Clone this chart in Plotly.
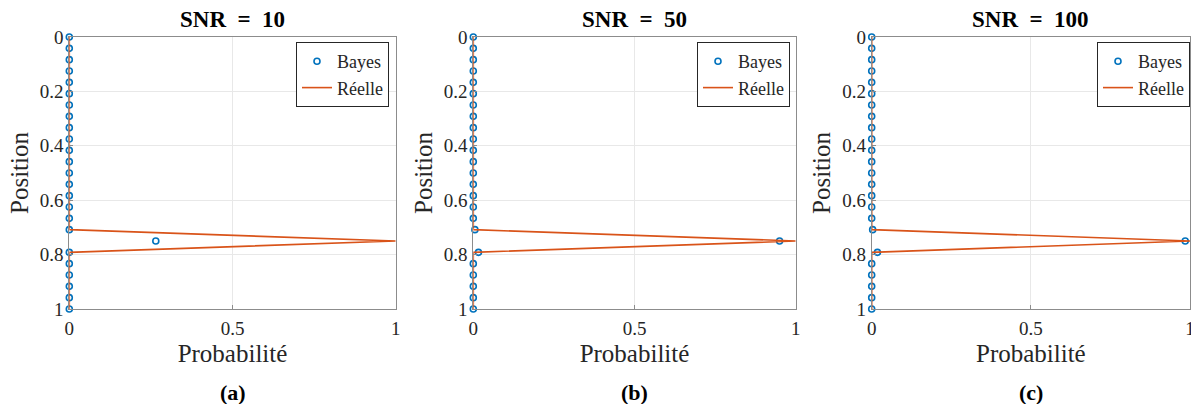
import plotly.graph_objects as go

W, H = 1191, 404

# ---- data ----
positions = [i / 24 for i in range(25)]
snr_titles = ["SNR = 10", "SNR = 50", "SNR = 100"]
captions = ["(a)", "(b)", "(c)"]

bayes_snr10 = [0.0] * 25
bayes_snr10[18] = 0.265
bayes_snr50 = [0.0] * 25
bayes_snr50[17] = 0.005
bayes_snr50[18] = 0.95
bayes_snr50[19] = 0.016
bayes_snr100 = [0.0] * 25
bayes_snr100[17] = 0.003
bayes_snr100[18] = 0.985
bayes_snr100[19] = 0.018
bayes_series = [bayes_snr10, bayes_snr50, bayes_snr100]

real_prob = [0.0] * 25
real_prob[18] = 1.0

x_ticks = [0, 0.5, 1]
x_tick_labels = ["0", "0.5", "1"]
y_ticks = [0, 0.2, 0.4, 0.6, 0.8, 1]
y_tick_labels = ["0", "0.2", "0.4", "0.6", "0.8", "1"]

# ---- layout geometry (pixels) ----
panels_px = [(69.3, 395.7), (473.3, 795.7), (871.7, 1190.0)]
legend_right_px = [389, 790, 1190]
top_px, bot_px = 37, 309
FONT = "Liberation Serif, DejaVu Serif, serif"
BLUE = "#0072BD"
RED = "#D95319"
TXT = "#262626"

fig = go.Figure()
annotations = []
for i in range(3):
    n = "" if i == 0 else str(i + 1)
    xa, ya = "x" + n, "y" + n
    leg = "legend" + n
    fig.add_trace(go.Scatter(
        x=bayes_series[i], y=positions, mode="markers", name="Bayes",
        marker=dict(symbol="circle-open", size=6, color=BLUE, line=dict(width=1.6, color=BLUE)),
        xaxis=xa, yaxis=ya, legend=leg, cliponaxis=False))
    fig.add_trace(go.Scatter(
        x=real_prob, y=positions, mode="lines", name="Réelle",
        line=dict(color=RED, width=1.6),
        xaxis=xa, yaxis=ya, legend=leg, cliponaxis=False))
    x0, x1 = panels_px[i]
    dom = [x0 / W, x1 / W]
    common = dict(showgrid=True, gridcolor="#e8e8e8", gridwidth=1,
                  showline=True, linecolor="#8c8c8c", linewidth=1, mirror=True,
                  ticks="inside", ticklen=4, tickcolor="#8c8c8c",
                  tickfont=dict(family=FONT, size=19, color=TXT),
                  zeroline=False, automargin=False, ticklabeloverflow="allow")
    ax = dict(domain=dom, range=[0, 1], tickvals=x_ticks, ticktext=x_tick_labels,
              anchor=ya, ticklabelstandoff=2,
              title=dict(text="Probabilité", font=dict(family=FONT, size=25, color=TXT), standoff=6),
              **common)
    ay = dict(domain=[1 - bot_px / H, 1 - top_px / H], range=[1, 0], tickvals=y_ticks,
              ticktext=y_tick_labels, anchor=xa, ticklabelstandoff=1,
              title=dict(text="Position", font=dict(family=FONT, size=25, color=TXT), standoff=4),
              **common)
    fig.layout["xaxis" + n] = ax
    fig.layout["yaxis" + n] = ay
    fig.layout[leg] = dict(x=legend_right_px[i] / W, y=1 - 42 / H, xanchor="right", yanchor="top",
                           bgcolor="white", bordercolor=TXT, borderwidth=1,
                           font=dict(family=FONT, size=18, color=TXT),
                           tracegroupgap=0, itemwidth=30)
    cx = (x0 + x1) / 2 / W
    title_text = snr_titles[i].replace(" = ", "&nbsp;&nbsp;=&nbsp;&nbsp;")
    annotations.append(dict(text="<b>" + title_text + "</b>", x=cx, y=1 - 19 / H,
                            xref="paper", yref="paper", showarrow=False,
                            xanchor="center", yanchor="middle",
                            font=dict(family=FONT, size=23, color="black")))
    annotations.append(dict(text="<b>" + captions[i] + "</b>", x=cx, y=1 - 392 / H,
                            xref="paper", yref="paper", showarrow=False,
                            xanchor="center", yanchor="middle",
                            font=dict(family=FONT, size=22, color="black")))

fig.update_layout(template="none", width=W, height=H, margin=dict(l=0, r=0, t=0, b=0),
                  paper_bgcolor="white", plot_bgcolor="white",
                  font=dict(family=FONT, color=TXT),
                  annotations=annotations, showlegend=True)
fig.write_html("out.html", config={"displayModeBar": False},
               post_script="document.body.style.margin='0';document.body.style.overflow='hidden';")
